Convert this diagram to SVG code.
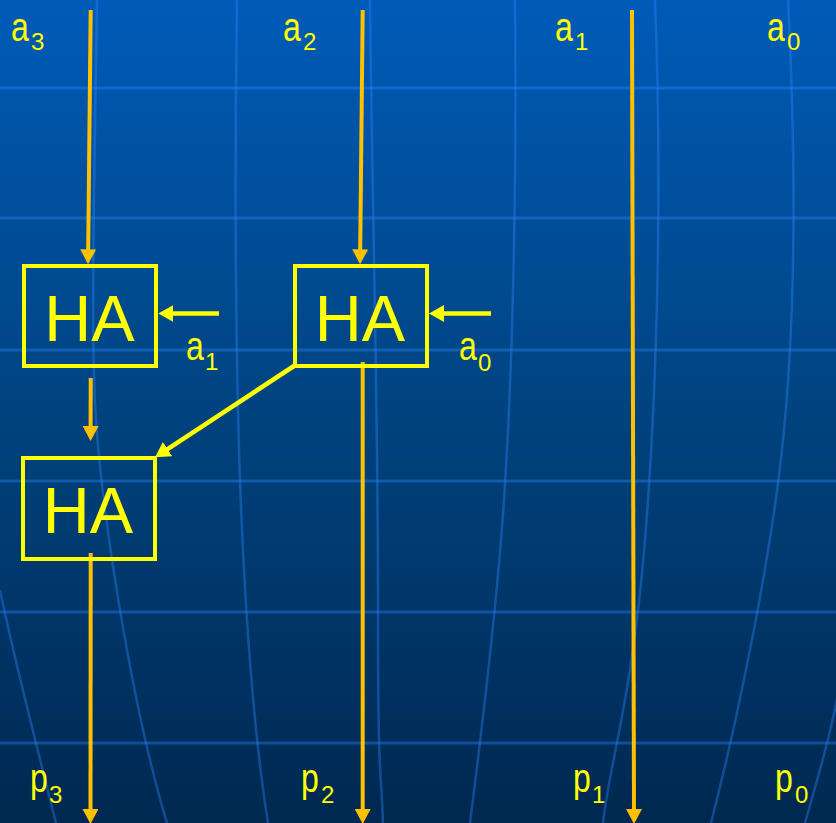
<svg xmlns="http://www.w3.org/2000/svg" width="836" height="823" viewBox="0 0 836 823">
<defs>
<linearGradient id="bg" x1="0" y1="0" x2="0" y2="1">
<stop offset="0" stop-color="#005bb8"/>
<stop offset="0.5" stop-color="#00437f"/>
<stop offset="1" stop-color="#002850"/>
</linearGradient>
<marker id="ao" viewBox="0 0 15 16" markerWidth="15" markerHeight="16" refX="10" refY="8" orient="auto" markerUnits="userSpaceOnUse">
<path d="M0,0 L15,8 L0,16 z" fill="#FFC000"/>
</marker>
<marker id="ay" viewBox="0 0 15 17" markerWidth="15" markerHeight="17" refX="10" refY="8.5" orient="auto" markerUnits="userSpaceOnUse">
<path d="M0,0 L15,8.5 L0,17 z" fill="#FFFF00"/>
</marker>
</defs>
<style>
.grid{fill:none;stroke:#2e86ff;stroke-opacity:0.38}
.gh{stroke-width:3}
.gv{stroke-width:2.5}
.box{fill:none;stroke:#FFFF00;stroke-width:4}
.ha{font-family:"Liberation Sans",Arial,sans-serif;font-size:65px;fill:#FFFF00;text-anchor:middle}
.lt{font-family:"Liberation Sans",Arial,sans-serif;font-size:40px;fill:#FFFF00}
.sb{font-family:"Liberation Sans",Arial,sans-serif;font-size:24px;fill:#FFFF00}
.or{stroke:#FFC000;stroke-width:4;fill:none}
.ye{stroke:#FFFF00;stroke-width:4.5;fill:none}
</style>
<rect x="0" y="0" width="836" height="823" fill="url(#bg)"/>
<g id="background-grid" class="grid">
<line class="gh" x1="0" y1="88" x2="836" y2="88"/>
<line class="gh" x1="0" y1="218" x2="836" y2="218"/>
<line class="gh" x1="0" y1="350" x2="836" y2="350"/>
<line class="gh" x1="0" y1="481" x2="836" y2="481"/>
<line class="gh" x1="0" y1="612" x2="836" y2="612"/>
<line class="gh" x1="0" y1="743" x2="836" y2="743"/>
<path class="gv" d="M97,0 C95,150 90,330 96,420 S130,700 167,823"/>
<path class="gv" d="M237,0 C234,200 236,400 242,530 S258,760 268,823"/>
<path class="gv" d="M370,0 C372,200 378,400 378,600 S381,760 383,823"/>
<path class="gv" d="M515,0 C517,200 512,380 504,500 S478,760 470,823"/>
<path class="gv" d="M655,0 C662,180 658,380 645,540 S610,760 603,823"/>
<path class="gv" d="M788,0 C797,180 795,330 782,450 S735,730 711,823"/>
<path class="gv" d="M0,590 C10,640 35,740 56,823"/>
<path class="gv" d="M842,670 C835,720 820,770 805,823"/>
</g>
<g id="connectors">
<line class="or" x1="90.7" y1="10" x2="88.1" y2="259.3" marker-end="url(#ao)"/>
<line class="or" x1="362.7" y1="10" x2="360.1" y2="259.3" marker-end="url(#ao)"/>
<line class="or" x1="632" y1="10" x2="634" y2="819" marker-end="url(#ao)"/>
<line class="or" x1="90.7" y1="378" x2="90.6" y2="436" marker-end="url(#ao)"/>
<line class="or" x1="90.7" y1="553" x2="90.5" y2="819" marker-end="url(#ao)"/>
<line class="or" x1="362.7" y1="362" x2="362.7" y2="819" marker-end="url(#ao)"/>
<line class="ye" x1="219" y1="313.5" x2="163.3" y2="313.5" marker-end="url(#ay)"/>
<line class="ye" x1="491" y1="313.5" x2="434" y2="313.5" marker-end="url(#ay)"/>
<line class="ye" x1="297" y1="364" x2="159.2" y2="454.6" marker-end="url(#ay)"/>
</g>
<g id="ha1">
<rect class="box" x="24" y="266" width="132" height="100"/>
<text class="ha" x="89.5" y="340.5">HA</text>
</g>
<g id="ha2">
<rect class="box" x="295" y="266" width="132" height="100"/>
<text class="ha" x="360" y="340.5">HA</text>
</g>
<g id="ha3">
<rect class="box" x="23" y="458" width="132" height="101"/>
<text class="ha" x="88" y="532.5">HA</text>
</g>
<g id="labels">
<text class="lt" transform="translate(11,41) scale(0.8,1)">a</text><text class="sb" x="31" y="50">3</text>
<text class="lt" transform="translate(283,41) scale(0.8,1)">a</text><text class="sb" x="303" y="50">2</text>
<text class="lt" transform="translate(555,41) scale(0.8,1)">a</text><text class="sb" x="575" y="50">1</text>
<text class="lt" transform="translate(767,41) scale(0.8,1)">a</text><text class="sb" x="787" y="50">0</text>
<text class="lt" transform="translate(186,360) scale(0.8,1)">a</text><text class="sb" x="205" y="370">1</text>
<text class="lt" transform="translate(459,360) scale(0.8,1)">a</text><text class="sb" x="478" y="371">0</text>
<text class="lt" transform="translate(30,792) scale(0.8,1)">p</text><text class="sb" x="49" y="803">3</text>
<text class="lt" transform="translate(301,792) scale(0.8,1)">p</text><text class="sb" x="321" y="803">2</text>
<text class="lt" transform="translate(573,792) scale(0.8,1)">p</text><text class="sb" x="592" y="803">1</text>
<text class="lt" transform="translate(775,792) scale(0.8,1)">p</text><text class="sb" x="795" y="803">0</text>
</g>
</svg>
